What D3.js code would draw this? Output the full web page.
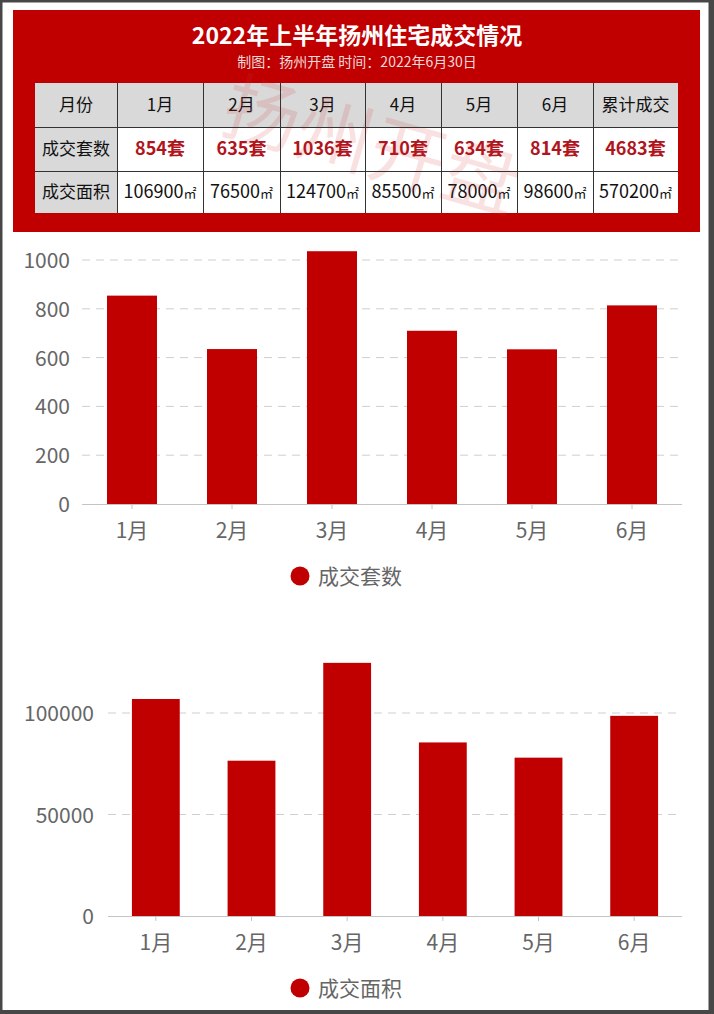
<!DOCTYPE html>
<html><head><meta charset="utf-8">
<script src="https://cdn.jsdelivr.net/npm/d3@7/dist/d3.min.js"></script>
<style>
html,body{margin:0;padding:0;background:#fff;}
svg{display:block;}
</style></head>
<body><svg id="c" width="714" height="1014"></svg>
<script>
const months = ["1月","2月","3月","4月","5月","6月"];
const units = [854, 635, 1036, 710, 634, 814];
const areas = [106900, 76500, 124700, 85500, 78000, 98600];
const totalUnits = 4683;
const totalArea = 570200;
const unitTicks = [0, 200, 400, 600, 800, 1000];
const areaTicks = [0, 50000, 100000];
const titleText = "2022年上半年扬州住宅成交情况";
const subText = "制图：扬州开盘 时间：2022年6月30日";
const rowHeads = ["月份", "成交套数", "成交面积"];
const totalHead = "累计成交";
const legend1 = "成交套数";
const legend2 = "成交面积";

const FONT = "'Microsoft YaHei','Noto Sans CJK SC','Noto Sans',sans-serif";
const RED = "#c00000";
const svg = d3.select("#c");

// frame
svg.append("rect").attr("x",0).attr("y",0).attr("width",714).attr("height",1014).attr("fill","#474747");
svg.append("rect").attr("x",2.5).attr("y",2.5).attr("width",706).attr("height",1007.5).attr("fill","#fff");

// header
svg.append("rect").attr("x",13).attr("y",10).attr("width",687).attr("height",222).attr("fill",RED);
svg.append("text").attr("x",357).attr("y",44).attr("text-anchor","middle")
  .attr("font-family",FONT).attr("font-weight","bold").attr("font-size",23).attr("fill","#fff").text(titleText);
svg.append("text").attr("x",357).attr("y",67).attr("text-anchor","middle")
  .attr("font-family",FONT).attr("font-size",14).attr("fill","#f3dada").text(subText);

// table
const colX = [35,117,203,280,365,441,517,593,678];
const rowY = [83,127,171,213];
const tbl = svg.append("g");
const header = [rowHeads[0], ...months, totalHead];
const r2 = [rowHeads[1], ...units.map(v=>v+"套"), totalUnits+"套"];
const r3 = [rowHeads[2], ...areas.map(v=>v+"㎡"), totalArea+"㎡"];
const rows = [header, r2, r3];
rows.forEach((row, ri) => {
  row.forEach((txt, ci) => {
    const x0 = colX[ci], x1 = colX[ci+1], y0 = rowY[ri], y1 = rowY[ri+1];
    const gray = ri === 0 || ci === 0;
    tbl.append("rect").attr("x",x0).attr("y",y0).attr("width",x1-x0).attr("height",y1-y0)
      .attr("fill", gray ? "#d9d9d9" : "#fff");
  });
});
// watermark
svg.append("text").attr("transform","translate(364,172) rotate(16)").attr("text-anchor","middle")
  .attr("font-family",FONT).attr("font-size",76).attr("fill","rgba(210,40,40,0.14)").text("扬州开盘");
rows.forEach((row, ri) => {
  row.forEach((txt, ci) => {
    const x0 = colX[ci], x1 = colX[ci+1], y0 = rowY[ri], y1 = rowY[ri+1];
    const t = tbl.append("text").attr("x",(x0+x1)/2).attr("y",(y0+y1)/2+6).attr("text-anchor","middle")
      .attr("font-family",FONT);
    if (ri === 1 && ci > 0) {
      t.attr("font-weight","bold").attr("font-size",18).attr("fill","#b0141c");
    } else if (ri === 2 && ci > 0) {
      t.attr("font-size",18).attr("fill","#111");
    } else {
      t.attr("font-size",17).attr("fill","#111");
    }
    if (ri === 2 && ci > 0) {
      const s = String(txt).replace("㎡","");
      t.text(s).append("tspan").attr("font-size",13).text("㎡");
    } else t.text(txt);
  });
});
// grid lines of table
const lines = svg.append("g").attr("stroke","#333").attr("stroke-width",1).attr("shape-rendering","crispEdges");
colX.slice(1,-1).forEach(x => lines.append("line").attr("x1",x).attr("x2",x).attr("y1",rowY[0]).attr("y2",rowY[3]));
rowY.slice(1,-1).forEach(y => lines.append("line").attr("x1",colX[0]).attr("x2",colX[8]).attr("y1",y).attr("y2",y));

// chart helper
function barChart(opts) {
  const {data, ticks, xLeft, xRight, y0, yTop, domainMax, labelRight, legendY, legendText, padding} = opts;
  const g = svg.append("g");
  const x = d3.scaleBand().domain(months).range([xLeft, xRight]).paddingInner(padding).paddingOuter(padding/2);
  const y = d3.scaleLinear().domain([0, domainMax]).range([y0, yTop]);
  ticks.filter(t=>t>0).forEach(t => {
    g.append("line").attr("x1",xLeft).attr("x2",xRight).attr("y1",y(t)).attr("y2",y(t))
      .attr("stroke","#cfcfcf").attr("stroke-width",1).attr("stroke-dasharray","8,6");
  });
  const ya = d3.axisLeft(y).tickValues(ticks).tickFormat(d3.format("d")).tickSize(0).tickPadding(0);
  const yg = g.append("g").attr("transform",`translate(${labelRight},0)`).call(ya);
  yg.select(".domain").remove();
  yg.selectAll("text").attr("font-family",FONT).attr("font-size",21).attr("fill","#666").attr("dy","0.36em");
  g.selectAll(".bar").data(data).join("rect")
    .attr("x",(d,i)=>x(months[i])).attr("width",x.bandwidth())
    .attr("y",d=>y(d)).attr("height",d=>y0-y(d)).attr("fill",RED);
  const xa = d3.axisBottom(x).tickSize(5).tickPadding(14);
  const xg = g.append("g").attr("transform",`translate(0,${y0})`).call(xa);
  xg.select(".domain").attr("stroke","#c4c4c4").attr("d",`M${xLeft},0.5H${xRight}`);
  xg.selectAll(".tick line").attr("stroke","#c4c4c4");
  xg.selectAll("text").attr("font-family",FONT).attr("font-size",21).attr("fill","#666");
  g.append("circle").attr("cx",300).attr("cy",legendY).attr("r",9.5).attr("fill",RED);
  g.append("text").attr("x",318).attr("y",legendY+8).attr("font-family",FONT).attr("font-size",21)
    .attr("fill","#666").text(legendText);
}
barChart({data:units, ticks:unitTicks, xLeft:82, xRight:682, y0:504, yTop:260, domainMax:1000,
  labelRight:70, legendY:576, legendText:legend1, padding:0.5});
barChart({data:areas, ticks:areaTicks, xLeft:108, xRight:682, y0:916, yTop:713, domainMax:100000,
  labelRight:94, legendY:988, legendText:legend2, padding:0.5});
</script></body></html>
